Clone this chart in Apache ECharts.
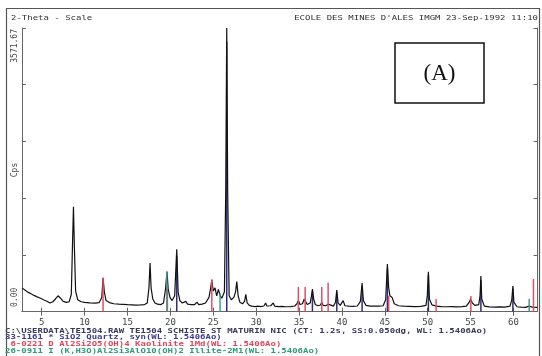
<!DOCTYPE html>
<html><head><meta charset="utf-8">
<script src="https://cdn.jsdelivr.net/npm/echarts@6/dist/echarts.min.js"></script>
<style>html,body{margin:0;padding:0;background:#fff}#c{width:542px;height:356px}</style>
</head><body><div id="c"></div>
<script>
// ---- data ----
const xTicks = [5,10,15,20,25,30,35,40,45,50,55,60];
const yMax = 3571.67;
const yLabels = ['3571.67', 'Cps', '0.00'];
const headerLeft = '2-Theta - Scale';
const headerRight = "ECOLE DES MINES D'ALES IMGM 23-Sep-1992 11:10";
const footerLines = [
  'C:\\USERDATA\\TE1504.RAW TE1504 SCHISTE ST MATURIN NIC (CT: 1.2s, SS:0.050dg, WL: 1.5406Ao)',
  '33-1161 * SiO2 Quartz, syn(WL: 1.5406Ao)',
  ' 6-0221 D Al2Si2O5(OH)4 Kaolinite 1Md(WL: 1.5406Ao)',
  '26-0911 I (K,H3O)Al2Si3AlO10(OH)2 Illite-2M1(WL: 1.5406Ao)'
];
const panelLabel = '(A)';
// diffractogram (2-theta, counts per second)
const spectrum = [
 [2.70,300],[2.9,285],[3.2,262],[3.5,240],[3.8,222],[4.1,205],[4.4,190],[4.8,172],[5.2,150],[5.6,132],
 [5.97,110],[6.3,125],[6.6,160],[6.9,200],[7.2,170],[7.5,130],[7.9,118],[8.2,125],[8.45,220],[8.6,900],
 [8.7,1322],[8.8,850],[8.95,260],[9.2,150],[9.6,125],[10.0,118],[10.6,112],[11.2,108],[11.7,115],[12.0,180],
 [12.15,424],[12.3,250],[12.5,140],[12.9,115],[13.4,100],[14.0,95],[14.5,92],[15.0,88],[15.5,85],[16.0,82],
 [16.5,85],[17.0,90],[17.3,110],[17.5,300],[17.63,613],[17.75,300],[17.95,160],[18.2,110],[18.5,95],[18.9,90],
 [19.2,110],[19.45,300],[19.6,504],[19.75,280],[19.95,180],[20.2,140],[20.5,200],[20.74,786],[20.9,250],[21.1,140],
 [21.4,110],[21.8,130],[22.0,95],[22.4,90],[22.8,88],[23.1,120],[23.3,90],[23.7,95],[24.1,110],[24.5,180],
 [24.7,300],[24.83,399],[25.0,260],[25.2,300],[25.4,200],[25.6,280],[25.8,200],[26.0,170],[26.3,250],[26.45,1500],
 [26.57,3571],[26.68,1500],[26.85,200],[27.1,150],[27.4,180],[27.6,250],[27.74,378],[27.9,200],[28.1,120],[28.4,100],
 [28.65,130],[28.79,220],[28.95,110],[29.2,80],[29.5,70],[29.9,65],[30.2,70],[30.5,65],[30.9,72],[31.1,110],
 [31.25,72],[31.7,75],[32.0,110],[32.15,70],[32.6,65],[33.0,68],[33.4,62],[34.0,65],[34.5,72],[34.75,100],
 [34.92,140],[35.1,90],[35.4,100],[35.6,160],[35.75,130],[35.95,90],[36.3,110],[36.45,200],[36.56,286],[36.7,160],
 [36.9,90],[37.2,75],[37.5,85],[37.65,120],[37.8,80],[38.1,75],[38.4,95],[38.6,70],[39.0,70],[39.25,120],
 [39.4,273],[39.55,110],[39.8,80],[40.14,140],[40.35,75],[40.8,70],[41.3,68],[41.8,72],[42.15,130],[42.35,361],
 [42.5,140],[42.8,80],[43.3,70],[43.8,72],[44.3,70],[44.8,75],[45.1,150],[45.3,601],[45.45,300],[45.6,200],
 [45.85,180],[46.1,100],[46.6,75],[47.2,70],[47.8,68],[48.5,65],[49.2,68],[49.8,80],[49.95,200],[50.08,504],
 [50.2,160],[50.5,85],[51.0,70],[51.6,65],[52.2,62],[52.8,65],[53.4,60],[54.0,65],[54.5,70],[54.85,120],
 [55.0,160],[55.2,110],[55.5,80],[55.95,90],[56.1,200],[56.2,449],[56.3,160],[56.6,70],[57.2,60],[57.8,58],
 [58.4,60],[59.0,58],[59.6,70],[59.8,150],[59.93,324],[60.05,120],[60.4,62],[60.9,58],[61.4,55],[61.8,70],
 [62.2,58],[62.8,55]
];
// reference stick patterns (2-theta, height in cps)
const quartzLines = [[20.74,700],[26.57,3400],[36.56,250],[39.4,240],[42.35,320],[45.3,540],[50.08,460],[56.2,400],[59.93,290]];
const kaoliniteLines = [[12.15,430],[19.65,330],[24.83,410],[34.92,311],[35.71,311],[37.65,311],[38.39,365],[45.45,200],[50.98,160],[55.03,198],[62.33,412]];
const illiteLines = [[19.58,504],[25.79,233],[61.83,160]];

// ---- chart ----
const chart = echarts.init(document.getElementById('c'), null, {renderer:'canvas'});
const mono = 'DejaVu Sans Mono';
const axisCol = '#666';
function stickSeries(data, color, w, z){
  return {type:'custom', data:data, z:z, encode:{x:0,y:1}, clip:true,
    renderItem:function(params, api){
      const p0 = api.coord([api.value(0), 0]);
      const p1 = api.coord([api.value(0), api.value(1)]);
      return {type:'line', shape:{x1:p0[0],y1:p0[1],x2:p1[0],y2:p1[1]}, style:{stroke:color, lineWidth:w}};
    }};
}
const footerColors = ['#3a3a5c','#3b3b94','#e0465a','#2e9c78'];
const graphics = [
  {type:'rect', shape:{x:6.5,y:8.5,width:533,height:360}, style:{fill:'none', stroke:'#555', lineWidth:1.2}, silent:true},
  {type:'text', x:11, y:18, scaleY:0.8, style:{text:headerLeft, fontFamily:mono, fontSize:9, fill:'#333', verticalAlign:'middle', textVerticalAlign:'middle'}},
  {type:'text', x:538, y:18, scaleY:0.8, style:{text:headerRight, fontFamily:mono, fontSize:9, fill:'#333', align:'right', textAlign:'right', verticalAlign:'middle', textVerticalAlign:'middle'}},
  {type:'text', x:15, y:29, rotation:Math.PI/2, style:{text:yLabels[0], fontFamily:mono, fontSize:8, fill:'#444', align:'right', textAlign:'right', verticalAlign:'middle', textVerticalAlign:'middle'}},
  {type:'text', x:15, y:170, rotation:Math.PI/2, style:{text:yLabels[1], fontFamily:mono, fontSize:8, fill:'#444', align:'center', textAlign:'center', verticalAlign:'middle', textVerticalAlign:'middle'}},
  {type:'text', x:15, y:307, rotation:Math.PI/2, style:{text:yLabels[2], fontFamily:mono, fontSize:8, fill:'#444', align:'left', textAlign:'left', verticalAlign:'middle', textVerticalAlign:'middle'}},
  {type:'rect', shape:{x:395,y:43,width:89,height:60}, style:{fill:'#fff', stroke:'#111', lineWidth:1.5}, z:100},
  {type:'text', x:439.5, y:74, z:101, style:{text:panelLabel, fontFamily:'Liberation Serif', fontSize:23, fill:'#111', align:'center', textAlign:'center', verticalAlign:'middle', textVerticalAlign:'middle'}}
];
const footerY = [330.7, 337.5, 344.3, 351];
footerLines.forEach(function(t, i){
  graphics.push({type:'text', x:5, y:footerY[i], scaleY:0.8, style:{text:t, fontFamily:mono, fontSize:9, fontWeight:'bold', fill:footerColors[i], verticalAlign:'middle', textVerticalAlign:'middle'}});
});

const option = {
  animation:false,
  backgroundColor:'#fff',
  grid:{left:22, right:4.5, top:28, bottom:44.3},
  xAxis:[
    {type:'value', min:2.7, max:62.8, position:'bottom',
     axisLine:{lineStyle:{color:axisCol, width:1}},
     axisTick:{inside:true, length:4, customValues:xTicks, lineStyle:{color:axisCol}},
     axisLabel:{customValues:xTicks, fontFamily:mono, fontSize:9, color:'#444', margin:6},
     splitLine:{show:false}},
    {type:'value', min:2.7, max:62.8, position:'top',
     axisLine:{lineStyle:{color:axisCol, width:1}},
     axisTick:{inside:true, length:4, customValues:xTicks, lineStyle:{color:axisCol}},
     axisLabel:{show:false}, splitLine:{show:false}}
  ],
  yAxis:[
    {type:'value', min:0, max:yMax, interval:yMax/5, position:'left',
     axisLine:{show:true, lineStyle:{color:axisCol, width:1}},
     axisTick:{show:true, inside:true, length:4, lineStyle:{color:axisCol}},
     axisLabel:{show:false}, splitLine:{show:false}},
    {type:'value', min:0, max:yMax, interval:yMax/5, position:'right',
     axisLine:{show:true, lineStyle:{color:axisCol, width:1}},
     axisTick:{show:true, inside:true, length:4, lineStyle:{color:axisCol}},
     axisLabel:{show:false}, splitLine:{show:false}}
  ],
  graphic:graphics,
  series:[
    stickSeries(quartzLines, '#2e2e7a', 1.5, 2),
    {type:'line', data:spectrum, symbol:'none', showSymbol:false, z:3,
     lineStyle:{color:'#111', width:1.2}},
    stickSeries(kaoliniteLines, '#e0506a', 1.5, 4),
    stickSeries(illiteLines, '#3f9c8c', 1.5, 4)
  ]
};
chart.setOption(option);
</script>
</body></html>
